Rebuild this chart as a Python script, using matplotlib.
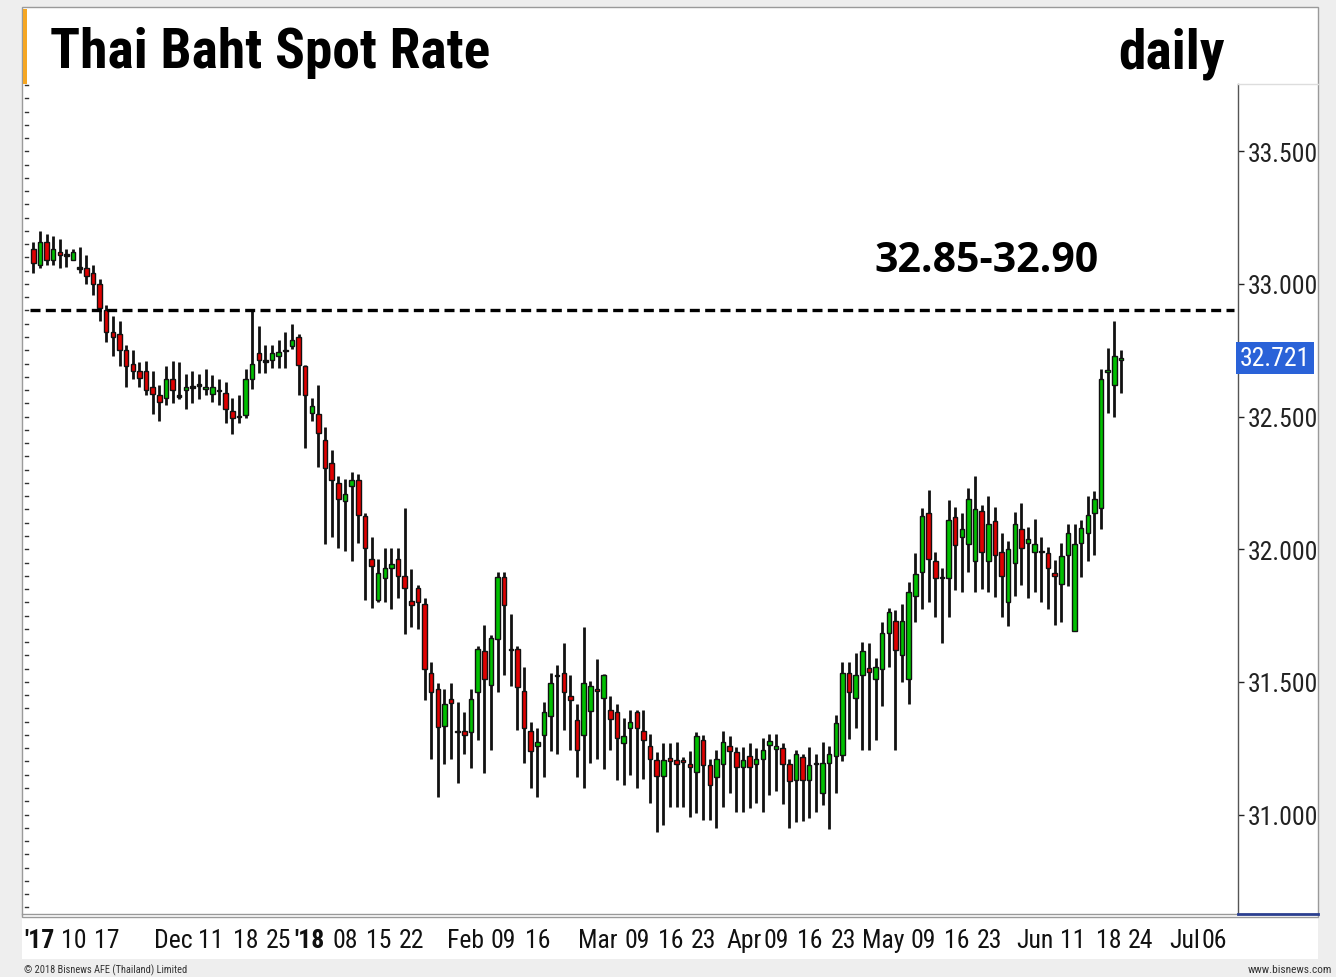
import matplotlib
matplotlib.use("Agg")
import numpy as np
import matplotlib.pyplot as plt
import matplotlib.transforms as mtransforms
from matplotlib.patches import Rectangle
from matplotlib import font_manager as fm

# ---------------- data ----------------
opens = [33.13, 33.07, 33.16, 33.09, 33.12, 33.11, 33.09, 33.06, 33.06, 33.04,
         33.00, 32.90, 32.82, 32.81, 32.75, 32.70, 32.67, 32.67, 32.61, 32.58,
         32.57, 32.64, 32.578, 32.60, 32.611, 32.619, 32.604, 32.585, 32.599, 32.59,
         32.52, 32.50, 32.505, 32.64, 32.74, 32.71, 32.715, 32.727, 32.749, 32.767,
         32.80, 32.69, 32.515, 32.51, 32.41, 32.325, 32.25, 32.18, 32.24, 32.26,
         32.125, 31.965, 31.81, 31.89, 31.93, 31.965, 31.90, 31.805, 31.855, 31.795,
         31.535, 31.475, 31.335, 31.435, 31.31, 31.316, 31.31, 31.46, 31.615, 31.49,
         31.66, 31.895, 31.622, 31.625, 31.465, 31.315, 31.26, 31.30, 31.37, 31.524,
         31.535, 31.445, 31.355, 31.30, 31.39, 31.475, 31.44, 31.395, 31.385, 31.27,
         31.325, 31.385, 31.315, 31.26, 31.205, 31.145, 31.213, 31.205, 31.207, 31.19,
         31.16, 31.28, 31.185, 31.14, 31.19, 31.26, 31.235, 31.18, 31.22, 31.19,
         31.21, 31.263, 31.247, 31.25, 31.19, 31.13, 31.215, 31.13, 31.193, 31.08,
         31.195, 31.22, 31.225, 31.535, 31.44, 31.525, 31.553, 31.51, 31.55, 31.685,
         31.73, 31.60, 31.51, 31.825, 31.915, 32.135, 31.955, 31.893, 31.89, 32.12,
         32.045, 32.02, 31.955, 32.145, 31.955, 32.105, 31.99, 31.80, 31.95, 32.075,
         32.022, 31.99, 31.992, 31.985, 31.91, 31.87, 31.98, 31.69, 32.025, 32.06,
         32.135, 32.155, 32.668, 32.62, 32.715]
highs = [33.16, 33.20, 33.19, 33.18, 33.17, 33.13, 33.13, 33.14, 33.11, 33.07,
         33.02, 32.92, 32.88, 32.86, 32.77, 32.75, 32.705, 32.71, 32.67, 32.62,
         32.69, 32.71, 32.705, 32.66, 32.67, 32.66, 32.68, 32.655, 32.64, 32.63,
         32.57, 32.58, 32.68, 32.905, 32.84, 32.77, 32.77, 32.79, 32.82, 32.85,
         32.81, 32.695, 32.57, 32.62, 32.46, 32.375, 32.275, 32.265, 32.29, 32.285,
         32.135, 32.045, 31.965, 32.005, 32.005, 32.005, 32.155, 31.925, 31.865, 31.815,
         31.575, 31.495, 31.475, 31.495, 31.425, 31.385, 31.475, 31.635, 31.715, 31.675,
         31.915, 31.915, 31.755, 31.635, 31.555, 31.35, 31.325, 31.425, 31.535, 31.565,
         31.645, 31.525, 31.415, 31.705, 31.505, 31.585, 31.53, 31.445, 31.415, 31.365,
         31.395, 31.395, 31.395, 31.305, 31.235, 31.27, 31.27, 31.275, 31.215, 31.24,
         31.31, 31.30, 31.21, 31.245, 31.315, 31.295, 31.255, 31.255, 31.27, 31.25,
         31.29, 31.305, 31.305, 31.27, 31.21, 31.245, 31.23, 31.255, 31.23, 31.275,
         31.26, 31.375, 31.575, 31.575, 31.61, 31.65, 31.645, 31.59, 31.725, 31.78,
         31.77, 31.795, 31.875, 31.985, 32.155, 32.225, 31.99, 31.93, 32.185, 32.16,
         32.135, 32.23, 32.275, 32.165, 32.20, 32.16, 32.06, 32.03, 32.14, 32.175,
         32.085, 32.115, 32.045, 32.01, 31.96, 32.025, 32.095, 32.095, 32.11, 32.20,
         32.22, 32.68, 32.76, 32.86, 32.75]
lows = [33.04, 33.06, 33.07, 33.07, 33.06, 33.065, 33.09, 33.04, 33.00, 32.96,
        32.86, 32.78, 32.73, 32.69, 32.61, 32.64, 32.61, 32.58, 32.51, 32.485,
        32.545, 32.55, 32.565, 32.53, 32.55, 32.565, 32.58, 32.555, 32.545, 32.475,
        32.435, 32.475, 32.495, 32.605, 32.665, 32.665, 32.685, 32.685, 32.685, 32.755,
        32.58, 32.38, 32.485, 32.31, 32.02, 32.045, 32.005, 31.995, 31.955, 32.025,
        31.81, 31.78, 31.80, 31.80, 31.775, 31.815, 31.68, 31.705, 31.70, 31.43,
        31.21, 31.065, 31.19, 31.21, 31.12, 31.23, 31.175, 31.28, 31.155, 31.245,
        31.46, 31.525, 31.485, 31.32, 31.195, 31.10, 31.065, 31.14, 31.24, 31.23,
        31.32, 31.245, 31.14, 31.10, 31.195, 31.21, 31.17, 31.245, 31.13, 31.11,
        31.15, 31.10, 31.135, 31.045, 30.935, 30.96, 31.03, 31.03, 31.03, 30.99,
        31.005, 30.98, 30.98, 30.95, 31.03, 31.08, 31.01, 31.01, 31.025, 31.045,
        31.01, 31.075, 31.09, 31.04, 30.95, 30.97, 30.975, 30.985, 31.01, 31.035,
        30.945, 31.08, 31.20, 31.285, 31.325, 31.245, 31.245, 31.28, 31.41, 31.555,
        31.245, 31.50, 31.415, 31.725, 31.775, 31.80, 31.745, 31.645, 31.745, 31.845,
        31.84, 31.915, 31.84, 31.85, 31.84, 31.82, 31.745, 31.71, 31.825, 31.865,
        31.815, 31.84, 31.80, 31.775, 31.715, 31.725, 31.86, 31.69, 31.895, 31.955,
        31.98, 32.075, 32.515, 32.50, 32.59]
closes = [33.08, 33.16, 33.09, 33.13, 33.11, 33.11, 33.12, 33.06, 33.03, 33.00,
          32.91, 32.82, 32.80, 32.75, 32.69, 32.67, 32.645, 32.60, 32.585, 32.555,
          32.64, 32.60, 32.578, 32.61, 32.611, 32.619, 32.612, 32.612, 32.599, 32.53,
          32.495, 32.50, 32.64, 32.70, 32.715, 32.71, 32.74, 32.743, 32.749, 32.79,
          32.695, 32.58, 32.54, 32.44, 32.305, 32.26, 32.19, 32.21, 32.26, 32.13,
          32.005, 31.935, 31.91, 31.93, 31.945, 31.90, 31.855, 31.79, 31.80, 31.55,
          31.46, 31.33, 31.415, 31.42, 31.316, 31.30, 31.435, 31.625, 31.51, 31.665,
          31.895, 31.79, 31.622, 31.48, 31.325, 31.24, 31.275, 31.385, 31.495, 31.524,
          31.46, 31.43, 31.245, 31.495, 31.485, 31.467, 31.525, 31.36, 31.29, 31.295,
          31.35, 31.325, 31.28, 31.21, 31.145, 31.205, 31.203, 31.19, 31.197, 31.18,
          31.295, 31.185, 31.11, 31.21, 31.275, 31.24, 31.18, 31.205, 31.18, 31.21,
          31.245, 31.276, 31.257, 31.19, 31.125, 31.23, 31.13, 31.185, 31.193, 31.195,
          31.23, 31.345, 31.535, 31.46, 31.525, 31.615, 31.536, 31.555, 31.685, 31.765,
          31.62, 31.73, 31.84, 31.905, 32.125, 31.965, 31.89, 31.893, 32.11, 32.015,
          32.075, 32.19, 32.15, 31.99, 32.095, 31.98, 31.90, 32.00, 32.095, 32.005,
          32.04, 32.02, 31.992, 31.93, 31.90, 31.975, 32.06, 32.02, 32.08, 32.13,
          32.19, 32.64, 32.676, 32.73, 32.721]

tick_labels = ["'17", "10", "17", "Dec", "11", "18", "25", "'18", "08", "15", "22",
               "Feb", "09", "16", "Mar", "09", "16", "23", "Apr", "09", "16", "23",
               "May", "09", "16", "23", "Jun", "11", "18", "24", "Jul", "06"]
tick_pos = [1.0, 6.1, 11.1, 21.1, 26.8, 32.1, 37.0, 41.7, 47.0, 52.1, 57.0,
            65.2, 70.8, 76.0, 85.1, 91.0, 96.1, 101.0, 107.2, 112.0, 117.1, 122.1,
            128.1, 134.2, 139.3, 144.1, 151.0, 156.8, 162.1, 167.0, 173.6, 178.0]
y_ticks = [31.0, 31.5, 32.0, 32.5, 33.0, 33.5]
resistance = 32.90
last_price = 32.721


# ---------------- font lookup: prefer a narrow / condensed face ----------------
def _weight(f):
    w = f.weight
    if isinstance(w, str):
        w = fm.weight_dict.get(w, 400)
    return w


def _stretch_val(f):
    s = f.stretch
    if isinstance(s, str):
        return fm.stretch_dict.get(s, 500)
    return s


def _is_narrow(f):
    if _stretch_val(f) < 500:
        return True
    n = f.name.lower()
    return "narrow" in n or "condensed" in n


def find_narrow(bold):
    prefs = ["liberation sans narrow", "arial narrow", "roboto", "open sans", "noto sans", "dejavu sans"]
    best = None
    for f in fm.fontManager.ttflist:
        if f.style != "normal" or not _is_narrow(f):
            continue
        w = _weight(f)
        if bold and w < 600:
            continue
        if not bold and (w >= 600 or w < 350):
            continue
        name = f.name.lower()
        rank = len(prefs)
        for k, p in enumerate(prefs):
            if name.startswith(p):
                rank = k
                break
        key = (_stretch_val(f), rank)
        if best is None or key < best[0]:
            best = (key, f.fname)
    return best[1] if best else None


bold_path = find_narrow(True)
reg_path = find_narrow(False)


def fp_bold(size):
    if bold_path:
        return fm.FontProperties(fname=bold_path, size=size)
    return fm.FontProperties(family="DejaVu Sans", weight="bold", size=size * 0.8)


def fp_reg(size):
    if reg_path:
        return fm.FontProperties(fname=reg_path, size=size)
    return fm.FontProperties(family="DejaVu Sans", size=size * 0.85)


# ---------------- figure ----------------
W, H = 1336, 978
DPI = 100
fig = plt.figure(figsize=(W / DPI, H / DPI), dpi=DPI, facecolor="#eeeeee")


def fx(px):
    return px / W


def fy(py):
    return 1 - py / H


# white panel behind everything
fig.patches.append(Rectangle((fx(22), fy(960)), fx(1318) - fx(22), fy(8) - fy(960),
                             transform=fig.transFigure, facecolor="white",
                             edgecolor="none", zorder=-10))
fig.patches.append(Rectangle((fx(22), fy(918)), fx(1318) - fx(22), fy(8) - fy(918),
                             transform=fig.transFigure, facecolor="none",
                             edgecolor="#9a9a9a", linewidth=1.0, zorder=-9))

ax = fig.add_axes([fx(25), fy(915), fx(1238) - fx(25), fy(8) - fy(915)])
ax.patch.set_alpha(0.0)
ax.set_xlim(-1.25, 181.65)
ax.set_ylim(30.625, 34.044)

body_w = 0.68
for i, (o, h, l, c) in enumerate(zip(opens, highs, lows, closes)):
    ax.vlines(i, l, h, color="#111111", linewidth=2.0, zorder=2)
    lo, hi = min(o, c), max(o, c)
    if c > o:
        fc = "#00c000"
    elif c < o:
        fc = "#e00000"
    else:
        fc = "#111111"
    height = max(hi - lo, 0.006)
    ax.add_patch(Rectangle((i - body_w / 2, (lo + hi) / 2 - height / 2), body_w, height,
                           facecolor=fc, edgecolor="#111111", linewidth=1.0, zorder=3))

ax.axhline(resistance, xmin=0.004, xmax=0.997, color="black", linestyle=(0, (3, 1.6)),
           linewidth=2.4, zorder=4)

blend = mtransforms.blended_transform_factory(ax.transAxes, ax.transData)
ax.text(0.7925, 33.05, "32.85-32.90", transform=blend,
        ha="center", va="baseline", fontsize=29.5, fontweight="bold",
        family=["Open Sans", "Lato", "DejaVu Sans"], color="black")

# left-edge minor ticks
for v in np.arange(30.65, 33.76, 0.05):
    ax.plot([-1.25, -0.85], [v, v], color="#333333", linewidth=1.0, clip_on=False, zorder=1)

# axes styling
for s in ["top", "left", "bottom"]:
    ax.spines[s].set_visible(False)
ax.spines["right"].set_bounds(30.625, 33.754)
ax.spines["right"].set_color("#555555")
ax.spines["right"].set_linewidth(1.0)
ax.yaxis.tick_right()
ax.set_yticks(y_ticks)
ax.set_yticklabels([f"{v:.3f}" for v in y_ticks])
for t in ax.get_yticklabels():
    t.set_fontproperties(fp_reg(18.5))
ax.tick_params(axis="y", which="major", length=4, width=1, pad=3, colors="#222222")
ax.set_xticks(tick_pos)
ax.set_xticklabels(tick_labels)
for t, lab in zip(ax.get_xticklabels(), tick_labels):
    t.set_fontproperties(fp_bold(18.5) if lab.startswith("'") else fp_reg(18.5))
ax.tick_params(axis="x", length=0, pad=10, colors="#111111")

# frame lines
fig.add_artist(plt.Line2D([fx(22), fx(1238)], [fy(915), fy(915)], color="#999999", linewidth=1.0))
fig.add_artist(plt.Line2D([fx(1238), fx(1318)], [fy(915), fy(915)], color="#2a3f8f", linewidth=2.0))
fig.add_artist(plt.Line2D([fx(1238), fx(1318)], [fy(85), fy(85)], color="#dddddd", linewidth=1.0))
# orange bar by title
fig.add_artist(Rectangle((fx(23), fy(85)), fx(4), fy(10) - fy(85),
                         transform=fig.transFigure, facecolor="#f5a623", edgecolor="none"))

# last price label
ax.text(1.0015, last_price, f"{last_price:.3f}", transform=blend,
        ha="left", va="center", fontproperties=fp_reg(18.5), color="white",
        bbox=dict(boxstyle="square,pad=0.15", facecolor="#2a62d8", edgecolor="none"),
        zorder=6, clip_on=False)

# titles
fig.text(fx(50), fy(68), "Thai Baht Spot Rate", ha="left", va="baseline",
         fontproperties=fp_bold(40), color="black")
fig.text(fx(1225), fy(68), "daily", ha="right", va="baseline",
         fontproperties=fp_bold(40), color="black")

# footer
fig.text(fx(24), fy(970), "\u00a9 2018 Bisnews AFE (Thailand) Limited", ha="left", va="center",
         fontproperties=fp_reg(7.5), color="#333333")
fig.text(fx(1332), fy(970), "www.bisnews.com", ha="right", va="center",
         fontproperties=fp_reg(8.2), color="#333333")

fig.savefig("out.png", dpi=DPI, facecolor=fig.get_facecolor())
